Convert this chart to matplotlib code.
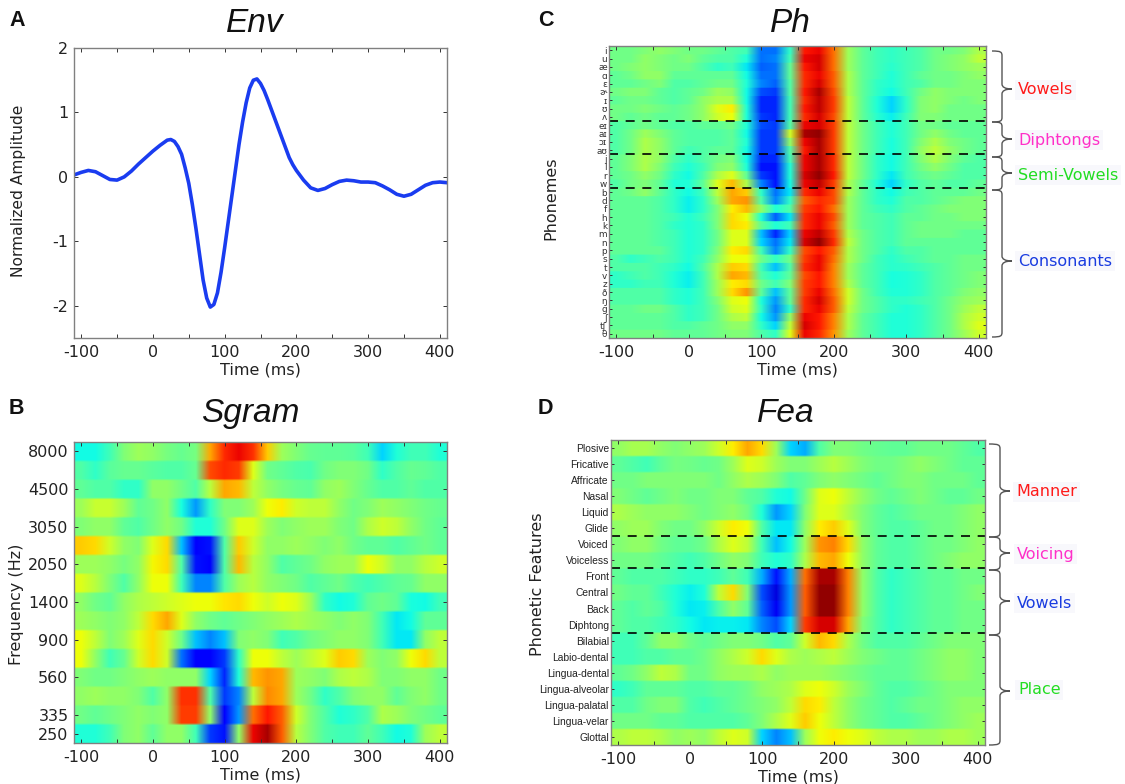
import numpy as np
import matplotlib
matplotlib.use("Agg")
import matplotlib.pyplot as plt
from matplotlib.path import Path
from matplotlib.patches import PathPatch
from matplotlib.transforms import Affine2D

plt.rcParams['font.family'] = ['DejaVu Sans']
plt.rcParams['axes.unicode_minus'] = False

env_time = [-110,-100,-90,-80,-70,-60,-50,-40,-30,-20,-10,0,10,20,25,30,35,40,45,50,55,60,65,70,75,80,85,90,95,100,105,110,115,120,125,130,135,140,145,150,155,160,165,170,175,180,185,190,195,200,210,220,230,240,250,260,270,280,290,300,310,320,330,340,350,360,370,380,390,400,410]
env_amp = [0.03,0.07,0.10,0.08,0.02,-0.04,-0.05,0.0,0.09,0.20,0.30,0.40,0.49,0.57,0.58,0.55,0.47,0.35,0.14,-0.10,-0.43,-0.80,-1.20,-1.60,-1.88,-2.02,-1.98,-1.80,-1.48,-1.10,-0.70,-0.30,0.10,0.50,0.85,1.15,1.38,1.50,1.52,1.45,1.34,1.20,1.05,0.90,0.75,0.60,0.45,0.30,0.19,0.10,-0.05,-0.17,-0.21,-0.18,-0.12,-0.07,-0.05,-0.06,-0.08,-0.08,-0.09,-0.14,-0.20,-0.27,-0.30,-0.27,-0.20,-0.13,-0.09,-0.08,-0.09]

freq_ticks = [8000,4500,3050,2050,1400,900,560,335,250]
freq_rows = [0,2,4,6,8,10,12,14,15]

sgram = [
[34,34,40,48,52,50,47,45,47,72,86,90,85,68,52,48,45,44,44,43,40,30,36,40,40,36],
[42,38,43,45,45,43,42,42,45,82,86,84,60,46,44,42,41,46,48,48,46,38,42,45,44,42],
[44,42,42,38,38,50,50,46,42,55,72,70,56,50,47,45,44,50,52,48,45,42,42,44,42,42],
[52,57,57,52,44,46,50,35,24,38,48,48,52,62,64,58,56,56,50,46,48,52,50,48,46,45],
[48,50,50,44,42,46,50,46,36,36,46,60,60,52,48,50,52,52,48,46,54,58,56,50,46,44],
[68,66,58,50,48,60,66,28,7,10,42,68,58,50,50,52,50,48,50,46,44,44,42,44,46,44],
[52,52,50,47,50,63,66,42,10,8,42,70,55,50,42,44,46,50,52,52,62,58,50,50,55,58],
[60,55,48,42,50,62,62,40,22,22,42,52,55,50,48,46,42,44,46,42,40,42,44,45,50,50],
[50,46,44,50,54,56,58,60,62,62,65,66,62,58,62,60,52,38,34,36,44,46,44,35,34,40],
[52,50,48,50,56,66,72,60,50,46,44,46,48,50,52,54,52,50,48,50,48,40,32,34,44,44],
[62,56,48,52,60,66,58,46,28,22,28,48,50,48,40,42,46,48,50,50,48,40,32,32,50,56],
[62,50,40,45,58,66,58,20,8,8,14,38,62,62,56,52,56,60,68,66,52,48,50,62,66,56],
[48,46,46,48,50,52,50,50,50,30,12,36,70,74,72,52,50,48,54,56,54,48,48,50,50,46],
[50,52,50,50,48,42,50,85,85,42,14,22,56,75,72,52,46,38,42,48,50,50,44,48,50,46],
[46,44,46,48,50,48,50,84,84,50,8,24,78,88,80,58,48,42,36,38,42,54,52,48,46,44],
[36,36,40,48,50,44,50,50,40,14,10,50,90,96,80,55,48,42,40,40,44,40,34,36,52,56],
]

phonemes = ['i','u','æ','ɑ','ɛ','ɚ','ɪ','ʊ','ʌ','eɪ','aɪ','ɔɪ','aʊ','j','l','r','w','b','d','f','h','k','m','n','p','s','t','v','z','ð','ŋ','g','ʃ','tʃ','θ']

ph = [
[46,46,48,50,48,46,46,44,42,40,20,20,38,88,90,78,52,44,40,38,40,42,46,46,48,54],
[46,46,50,48,46,48,44,42,42,36,20,22,40,90,92,78,52,44,40,38,40,42,46,48,50,56],
[46,48,50,48,46,46,42,38,40,32,18,20,44,88,92,78,52,44,40,37,40,42,46,48,50,52],
[44,46,50,50,44,44,44,44,44,34,20,20,44,86,90,80,54,44,40,36,40,44,46,46,48,50],
[44,44,46,48,42,42,44,46,46,36,22,18,42,86,92,80,54,44,38,36,40,42,46,46,48,48],
[46,48,48,44,42,44,46,52,50,34,16,14,42,88,96,82,54,44,38,34,40,46,50,48,48,48],
[44,46,46,44,42,44,50,54,54,34,12,12,40,86,94,84,56,44,36,30,38,48,50,48,46,48],
[46,46,48,46,44,46,50,60,64,36,12,12,40,88,94,84,56,44,36,30,38,48,50,46,46,46],
[46,44,46,44,44,46,50,58,62,36,14,12,40,86,92,82,56,44,37,33,40,48,48,46,46,46],
[42,44,46,44,42,42,44,44,46,36,16,14,42,90,92,84,56,46,40,36,40,46,46,44,44,44],
[42,46,52,48,44,42,42,42,44,34,14,14,58,96,98,84,56,46,40,36,40,46,50,46,44,44],
[42,46,54,50,44,42,42,42,44,36,14,14,50,90,96,84,56,46,40,35,40,48,54,48,46,44],
[42,46,54,50,44,40,42,44,44,34,14,14,42,88,96,84,56,46,40,35,40,50,56,50,46,44],
[44,48,54,50,42,38,42,46,48,34,12,12,40,90,96,86,56,46,38,34,40,48,54,48,44,42],
[44,48,54,48,40,36,40,48,50,36,10,10,36,90,96,86,56,46,38,34,40,46,50,46,42,42],
[44,46,50,46,38,34,42,54,60,44,14,10,36,92,98,88,56,46,38,32,40,44,46,44,42,42],
[42,46,48,44,36,36,44,60,70,54,22,10,34,90,94,84,54,44,36,30,38,42,44,42,42,44],
[44,46,50,44,38,34,40,56,72,68,38,20,32,86,90,82,54,44,38,34,40,42,44,44,44,46],
[44,44,44,42,38,33,38,52,72,74,42,22,38,80,86,82,52,44,38,36,42,42,44,46,48,48],
[44,44,44,42,38,33,38,48,64,70,50,36,42,84,88,78,52,44,40,38,42,44,46,48,48,48],
[44,44,44,42,40,36,40,48,66,62,36,18,32,86,90,82,52,44,42,40,44,44,46,46,48,48],
[44,44,44,42,38,36,38,48,66,64,44,36,40,86,90,80,52,44,42,40,44,46,46,46,46,46],
[44,44,44,42,40,36,38,46,60,60,28,12,30,90,94,84,54,46,42,40,44,46,46,46,44,44],
[44,44,44,42,40,36,38,46,60,60,30,20,32,92,98,86,56,46,42,40,44,44,44,44,44,44],
[44,44,44,44,40,36,38,48,64,66,40,22,38,82,88,80,54,46,42,38,42,42,44,44,44,44],
[42,38,40,42,40,36,40,50,62,62,46,38,46,84,90,78,54,46,40,37,40,42,44,44,46,46],
[42,42,42,40,38,34,42,54,68,66,40,28,42,86,90,76,52,44,40,37,38,40,42,44,46,46],
[38,40,42,40,36,33,40,54,72,70,42,36,44,82,88,76,52,44,40,35,36,38,42,44,46,48],
[38,38,40,40,36,33,40,52,64,66,46,40,48,84,88,76,54,44,40,35,36,38,42,44,46,48],
[42,42,42,42,38,36,40,52,66,74,44,28,44,84,90,78,58,46,40,36,36,38,42,44,48,50],
[42,42,42,42,38,36,40,48,60,62,36,24,44,86,92,80,58,46,42,38,38,40,42,46,50,52],
[44,44,46,46,42,38,40,46,58,60,38,22,38,86,90,80,56,46,42,38,36,38,42,46,52,56],
[44,44,44,44,42,38,40,46,54,56,34,24,50,90,88,76,54,44,40,36,36,38,42,46,54,58],
[44,44,44,44,42,42,44,46,50,50,38,30,56,92,88,76,54,44,40,36,36,38,42,46,54,60],
[46,46,46,46,44,44,44,46,48,48,42,38,60,90,86,74,52,44,40,36,36,38,42,46,52,58],
]

features = ['Plosive','Fricative','Affricate','Nasal','Liquid','Glide','Voiced','Voiceless','Front','Central','Back','Diphtong','Bilabial','Labio-dental','Lingua-dental','Lingua-alveolar','Lingua-palatal','Lingua-velar','Glottal']

fea = [
[50,53,53,50,48,50,52,58,64,72,66,52,30,26,42,48,48,46,45,44,44,46,46,46,44,42],
[44,42,40,44,47,46,45,46,52,60,58,52,48,48,52,55,52,48,46,46,48,50,48,46,44,44],
[46,46,48,48,48,48,48,46,50,54,52,48,42,44,48,50,48,46,44,46,48,48,46,46,46,44],
[48,46,44,46,48,46,46,48,48,44,42,36,34,46,60,62,56,50,46,44,46,48,46,44,44,46],
[54,52,50,50,50,48,46,48,50,46,36,24,30,48,60,60,54,48,44,42,44,46,46,46,48,50],
[50,52,52,48,46,46,50,58,64,62,42,32,32,50,64,68,60,48,44,42,42,44,46,46,48,50],
[48,50,50,46,44,44,46,54,60,56,40,28,34,52,74,76,66,50,44,42,42,44,46,46,48,50],
[46,46,46,44,42,40,42,46,50,48,40,36,38,54,70,72,62,50,44,42,42,44,46,48,50,50],
[44,42,42,42,40,38,38,40,44,40,26,10,26,78,96,96,76,50,42,38,40,42,44,44,46,46],
[46,44,44,40,36,33,36,56,66,48,16,4,24,80,98,98,76,50,42,38,40,42,44,44,46,48],
[44,42,44,42,36,32,33,42,50,44,18,6,24,80,98,98,76,50,42,38,40,42,44,44,46,46],
[44,42,42,40,38,34,32,33,33,32,22,16,30,84,92,92,72,48,42,38,40,42,44,44,46,46],
[40,40,44,50,50,46,44,46,48,48,46,42,44,58,70,66,54,46,42,42,42,44,46,48,48,48],
[40,40,42,42,44,44,46,50,54,58,66,60,54,52,54,56,52,48,46,44,44,46,48,50,50,48],
[44,46,50,56,54,46,46,50,52,52,54,50,52,52,52,50,48,46,44,44,44,46,48,50,50,48],
[38,40,44,44,44,42,42,44,44,46,50,52,54,60,62,58,52,48,44,42,42,44,46,48,48,48],
[42,42,46,48,48,42,40,42,44,46,48,50,56,66,64,56,50,46,44,42,44,46,46,48,50,50],
[46,46,46,44,44,42,42,42,42,44,48,54,60,68,62,56,50,46,44,42,42,44,46,48,50,52],
[54,56,56,54,50,52,50,56,60,58,30,22,28,52,62,64,62,60,56,54,54,52,52,54,54,52],
]

time_ticks = [-100,0,100,200,300,400]
time_minor = [-50,50,150,250,350]
T0, T1 = -110, 410

W, H = 1125, 784
fig = plt.figure(figsize=(W/100, H/100), dpi=100, facecolor='white')

def make_axes(l, t, r, b):
    ax = fig.add_axes([l/W, 1-b/H, (r-l)/W, (b-t)/H])
    ax.px = (l, t, r, b)
    return ax

SPINE = '#808080'
TICK = '#333333'
INK = '#222222'

def style(ax):
    for s in ax.spines.values():
        s.set_color(SPINE); s.set_linewidth(1.0)
    ax.set_xlim(T0, T1)
    ax.set_xticks(time_ticks)
    ax.set_xticks(time_minor, minor=True)
    ax.tick_params(axis='x', which='both', direction='in', length=3, width=0.7, color=TICK, top=True,
                   labelsize=11.5, pad=5, labelcolor=INK)
    ax.tick_params(axis='y', which='both', direction='in', width=0.7, color=TICK, right=True)
    ax.set_xlabel('Time (ms)', fontsize=11.5, labelpad=2, color=INK)

def ylabel(ax, s, px, py, size):
    l, t, r, b = ax.px
    ax.set_ylabel(s, fontsize=size, color=INK, va='center')
    ax.yaxis.set_label_coords((px-l)/(r-l), (b-py)/(b-t))

def heat(ax, m):
    a = np.repeat(np.asarray(m, float), 8, axis=0)
    ax.imshow(a, cmap='jet', vmin=-5, vmax=100, aspect='auto', interpolation='bilinear',
              extent=(T0, T1, len(m)-0.5, -0.5))

# A
axA = make_axes(74, 48, 447, 338)
axA.plot(env_time, env_amp, color='#1a3cf0', lw=2.6, solid_joinstyle='round')
style(axA)
axA.set_ylim(-2.5, 2)
axA.set_yticks([-2,-1,0,1,2])
axA.tick_params(axis='y', direction='in', length=3, labelsize=11.5, pad=4, labelcolor=INK)
ylabel(axA, 'Normalized Amplitude', 18, 191, 11.2)

# B
axB = make_axes(74, 442, 447, 743)
heat(axB, sgram)
style(axB)
axB.set_yticks(freq_rows)
axB.set_yticklabels([str(f) for f in freq_ticks])
axB.tick_params(axis='y', direction='in', length=3, labelsize=11.5, pad=4, labelcolor=INK)
ylabel(axB, 'Frequency (Hz)', 17, 604, 11.5)

# C
axC = make_axes(609, 46, 986, 338)
heat(axC, ph)
style(axC)
axC.set_yticks(range(len(phonemes)))
axC.set_yticklabels(phonemes, fontsize=6.4)
axC.tick_params(axis='y', direction='in', length=2, pad=1.5, labelcolor='#333333')
ylabel(axC, 'Phonemes', 551, 198, 11.5)
for k in (9, 13, 17):
    axC.axhline(k-0.5, color='black', lw=1.2, dashes=(5.4, 4.6))

# D
axD = make_axes(611, 440, 985, 745)
heat(axD, fea)
style(axD)
axD.set_yticks(range(len(features)))
axD.set_yticklabels(features, fontfamily='Liberation Sans', fontsize=7.4)
axD.tick_params(axis='y', direction='in', length=2, pad=1.5, labelcolor=INK)
ylabel(axD, 'Phonetic Features', 538, 584, 11.5)
for k in (6, 8, 12):
    axD.axhline(k-0.5, color='black', lw=1.2, dashes=(5.4, 4.6))

# Panel letters and titles
def fig_text(x, y, s, **kw):
    return fig.text(x/W, 1-y/H, s, **kw)

for x, y, s in [(9,21,'A'),(9,409,'B'),(538,21,'C'),(538,409,'D')]:
    fig_text(x, y, s, fontfamily='Liberation Sans', fontweight='bold', fontsize=15.5, va='center', color='#111111')
for x, y, s in [(255,24,'Env'),(250,414,'Sgram'),(790,24,'Ph'),(786,414,'Fea')]:
    fig_text(x, y, s, fontfamily='Liberation Sans', fontstyle='italic', fontsize=24, ha='center', va='center', color='#111111')

# Braces
def brace(x0, xm, xt, y0, y1, ym):
    c = 5
    verts = [(x0,y0),(xm-1,y0),(xm,y0+1),(xm,y0+c),
             (xm,ym-c),(xm,ym-2),(xm+3,ym),(xt,ym),
             (xm+3,ym),(xm,ym+2),(xm,ym+c),
             (xm,y1-c),(xm,y1-1),(xm-1,y1),(x0,y1)]
    codes = [Path.MOVETO,Path.CURVE4,Path.CURVE4,Path.CURVE4,
             Path.LINETO,Path.CURVE4,Path.CURVE4,Path.CURVE4,
             Path.CURVE4,Path.CURVE4,Path.CURVE4,
             Path.LINETO,Path.CURVE4,Path.CURVE4,Path.CURVE4]
    tr = Affine2D().scale(1/W, -1/H).translate(0, 1) + fig.transFigure
    fig.add_artist(PathPatch(Path(verts, codes), fc='none', ec='#555555', lw=1.0, transform=tr))

RED, MAG, GRN, BLU = '#ff1a1a', '#ff30c8', '#22dd22', '#1a3ce0'
for y0, y1, ym in [(51,122,89),(122,157,139),(157,190,173),(190,337,261)]:
    brace(992, 1002, 1012, y0, y1, ym)
for y0, y1, ym in [(444,537,491),(537,570,553),(570,635,601),(635,745,691)]:
    brace(989, 1000, 1010, y0, y1, ym)

for x, y, s, col in [(1018,90,'Vowels',RED),(1018,140,'Diphtongs',MAG),(1018,175,'Semi-Vowels',GRN),(1018,261,'Consonants',BLU),
                     (1016,492,'Manner',RED),(1017,554,'Voicing',MAG),(1017,603,'Vowels',BLU),(1018,690,'Place',GRN)]:
    fig_text(x, y, s, color=col, fontsize=11.5, va='center',
             bbox=dict(fc='#f8f8fc', ec='none', pad=2))

fig.savefig('out.png', dpi=100)
